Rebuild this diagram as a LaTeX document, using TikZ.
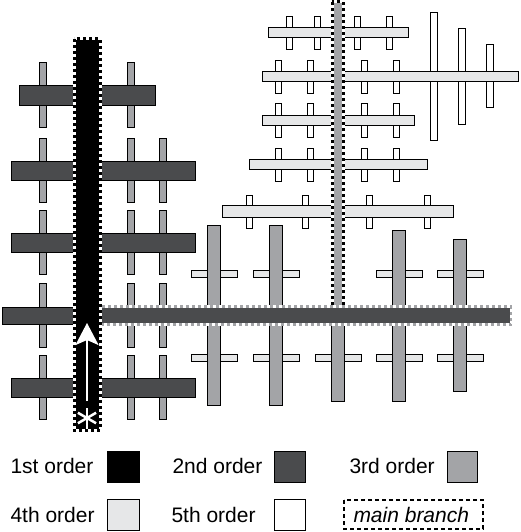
\documentclass[tikz,border=0pt]{standalone}
\usepackage{fontspec}
\setmainfont{Liberation Sans}
\usetikzlibrary{arrows.meta}
\definecolor{ordtwo}{RGB}{74,75,77}
\definecolor{ordthree}{RGB}{163,164,167}
\definecolor{ordfour}{RGB}{230,231,232}
\begin{document}
\begin{tikzpicture}[x=1pt, y=-1pt, line width=1pt,
		ordone/.style={fill=black, draw=black},
		ordtwo/.style={fill=ordtwo, draw=black},
		ordthree/.style={fill=ordthree, draw=black},
		ordfour/.style={fill=ordfour, draw=black},
		ordfive/.style={fill=white, draw=black},
		mainedge/.style={line width=3pt, dash pattern=on 3pt off 3pt},
		legtext/.style={anchor=base west, inner sep=0pt, font=\fontsize{21}{25}\selectfont}]
			\useasboundingbox (0, 0) rectangle (520, 532);
			% 3rd order sticks on the left
			\foreach \y in {95, 170, 242.5, 315, 387.5}
				\foreach \x in {43, 131}
					\filldraw[ordthree] (\x-3.5, \y-32) rectangle (\x+3.5, \y+32);
			\foreach \y in {170, 242.5, 315, 387.5}
				\filldraw[ordthree] (159.5, \y-32) rectangle (166.5, \y+32);
			% 2nd order branches
			\filldraw[ordtwo] (19, 86) rectangle (155, 106);
			\foreach \y in {161, 233, 378}
				\filldraw[ordtwo] (11, \y) rectangle (195, \y+19);
			\filldraw[ordtwo] (2, 307) rectangle (90, 324);
			% 5th order sticks up right
			\foreach \y/\xa/\xb/\xc/\xd in {17/289/317/357/389, 61/278/310/364/396, 104/278/310/364/396, 148/278/310/364/396, 195/249/305.5/369/427}
				\foreach \x in {\xa, \xb, \xc, \xd}
					\filldraw[ordfive] (\x-3, \y) rectangle (\x+3, \y+33);
			\foreach \x/\ya/\yb in {434/13/140, 462/29/124, 490/45/108}
				\filldraw[ordfive] (\x-3.5, \ya) rectangle (\x+3.5, \yb);
			% 4th order branches up right
			\foreach \ya/\yb/\xa/\xb in {28/38/268/408, 72/82/262/518, 115.5/125.5/262/414, 159/169/249/427, 205/217/222/453}
				\filldraw[ordfour] (\xa, \ya) rectangle (\xb, \yb);
			% main branch of 3rd order
			\filldraw[fill=ordthree, draw=white, line width=3pt] (332, 2) rectangle (343, 310);
			\draw[mainedge] (332, 2) rectangle (343, 310);
			% 4th order bars down right
			\foreach \x in {214, 276, 338, 399, 460}
				\filldraw[ordfour] (\x-23, 354) rectangle (\x+23, 361);
			\foreach \x in {214, 276, 399, 460}
				\filldraw[ordfour] (\x-23, 270) rectangle (\x+23, 277);
			% 3rd order sticks down right
			\foreach \x/\ya/\yb in {214/225/405, 276/225/405, 338/315/401, 399/230/401, 460/239/391}
				\filldraw[ordthree] (\x-6.5, \ya) rectangle (\x+6.5, \yb);
			% main branch of 2nd order
			\filldraw[fill=ordtwo, draw=white, line width=2.5pt] (101, 306.5) rectangle (511, 324.5);
			\draw[mainedge, line width=2.5pt, color=ordthree] (101, 306.5) rectangle (511, 324.5);
			% main axis, 1st order
			\filldraw[fill=black, draw=white, line width=3pt] (74, 39) rectangle (100, 430);
			\draw[mainedge, black] (74, 39) rectangle (100, 430);
			\coordinate (seed) at (87, 418);
			\coordinate (tail) at (87, 401);
			\coordinate (tip) at (87, 323);
			\foreach \a in {90, 30, -30}
				\draw[white, line width=2.5pt] (seed) ++(\a:10.5) -- ++(\a+180:21);
			\draw[white, line width=2.2pt, -{Stealth[length=22pt, width=23pt, inset=5pt]}] (tail) -- (tip);
			% legend
			\node[legtext] (l1) at (10, 473) {1st order};
			\node[legtext] (l2) at (172, 473) {2nd order};
			\node[legtext] (l3) at (349, 473) {3rd order};
			\node[legtext] (l4) at (10, 522) {4th order};
			\node[legtext] (l5) at (171, 522) {5th order};
			\filldraw[ordone] (107, 451) rectangle (139, 482);
			\filldraw[ordtwo] (274, 451) rectangle (305, 482);
			\filldraw[ordthree] (447, 451) rectangle (477, 482);
			\filldraw[ordfour] (107, 499) rectangle (139, 530);
			\filldraw[ordfive] (274, 499) rectangle (305, 530);
			\draw[line width=1.5pt, dash pattern=on 4pt off 3pt] (344, 500) rectangle (483, 529);
			\node[legtext, font=\fontsize{21}{25}\selectfont\itshape] (l6) at (353, 522) {main branch};
		\end{tikzpicture}
\end{document}
